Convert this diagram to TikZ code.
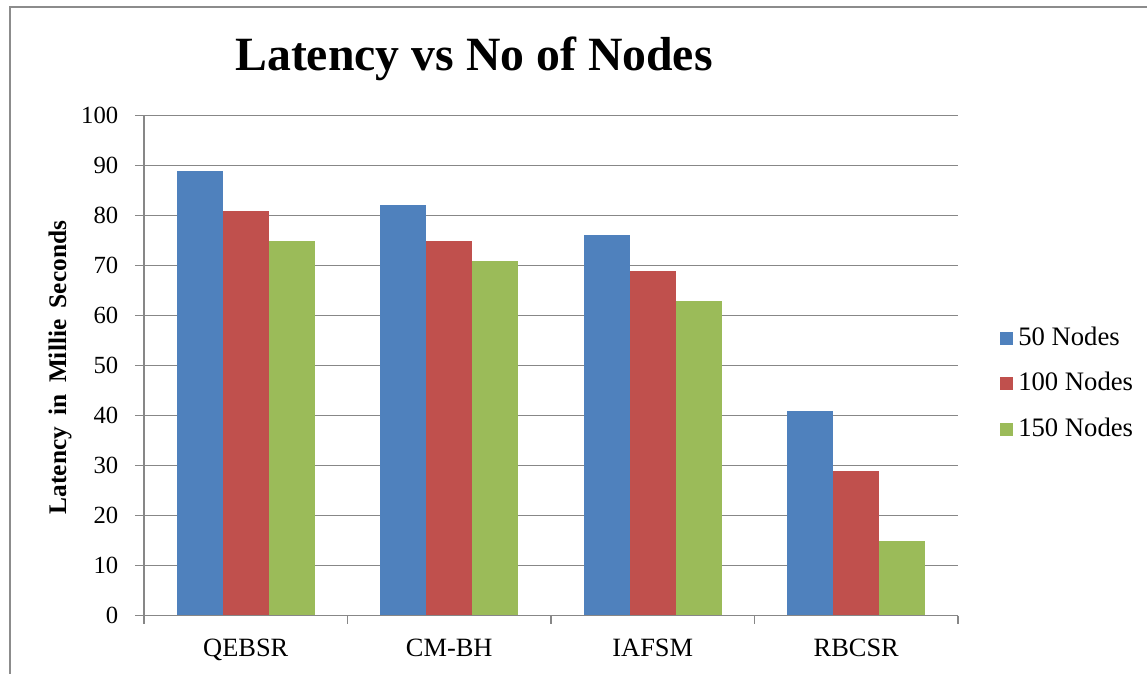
\documentclass[tikz,border=0pt]{standalone}
\usepackage{fontspec}
\setmainfont{Liberation Serif}
\definecolor{serA}{HTML}{4F81BD}
\definecolor{serB}{HTML}{C0504D}
\definecolor{serC}{HTML}{9BBB59}
\definecolor{gridgray}{HTML}{878787}
\definecolor{framegray}{HTML}{8C8C8C}
\tikzset{
  gridline/.style={draw=gridgray, line width=1.4pt},
  axisline/.style={draw=gridgray, line width=1.4pt},
  framerule/.style={draw=framegray, line width=1.5pt},
  ticklbl/.style={anchor=east, inner sep=0pt, font=\fontsize{18.5}{20}\selectfont},
  catlbl/.style={anchor=base, inner sep=0pt, font=\fontsize{19.8}{22}\selectfont},
  leglbl/.style={anchor=base west, inner sep=0pt, font=\fontsize{20}{22}\selectfont},
  titlelbl/.style={anchor=base, inner sep=0pt, font=\fontsize{35.8}{40}\selectfont\bfseries},
  axtitle/.style={anchor=base, inner sep=0pt, rotate=90, font=\fontsize{19}{22}\selectfont\bfseries},
}
\begin{document}
\begin{tikzpicture}[x=0.75pt, y=-0.75pt]
\useasboundingbox (0,0) rectangle (1147,674);
\fill[white] (0,0) rectangle (1147,674);

% chart area frame (left and top edges)
\draw[framerule] (10,674) -- (10,7) -- (1147,7);

% title
\node[titlelbl] (title) at (474,70.5) {Latency vs No of Nodes};

% horizontal gridlines with their left ticks
\foreach \t in {10,20,...,100} {
  \draw[gridline] (135,615.5-5*\t) -- (958,615.5-5*\t);
}

% value labels
\foreach \t in {0,10,...,100} {
  \node[ticklbl] (tick\t) at (118.5,615.5-5*\t) {\t};
}

% bars: three series per category
\foreach \c/\a/\b/\d [count=\k from 0] in {QEBSR/89/81/75, CM-BH/82.2/75/71, IAFSM/76.2/69/63, RBCSR/41/29/15} {
  \pgfmathsetmacro\xs{144+203.5*\k+32.75}
  \fill[serA] (\xs,615.5) rectangle ++(46,-5*\a);
  \fill[serB] (\xs+46,615.5) rectangle ++(46,-5*\b);
  \fill[serC] (\xs+92,615.5) rectangle ++(46,-5*\d);
  \node[catlbl] (cat\k) at (144+203.5*\k+101.75,656.5) {\c};
}

% axes
\draw[axisline] (144,115.5) -- (144,624);
\draw[axisline] (135,615.5) -- (958,615.5);
\foreach \k in {1,2,3,4} {
  \draw[axisline] (144+203.5*\k,615.5) -- ++(0,8.5);
}

% value axis title
\node[axtitle] (ytitle) at (66,367.5) {Latency\hspace{0.45em}in\hspace{0.45em}Millie\hspace{0.45em}Seconds};

% legend
\fill[serA] (1000,331.5) rectangle (1013,344.5);
\node[leglbl] (leg1) at (1018,345) {50 Nodes};
\fill[serB] (1000,377) rectangle (1013,390);
\node[leglbl] (leg2) at (1018,390.5) {100 Nodes};
\fill[serC] (1000,422.5) rectangle (1013,435.5);
\node[leglbl] (leg3) at (1018,436) {150 Nodes};
\end{tikzpicture}
\end{document}
